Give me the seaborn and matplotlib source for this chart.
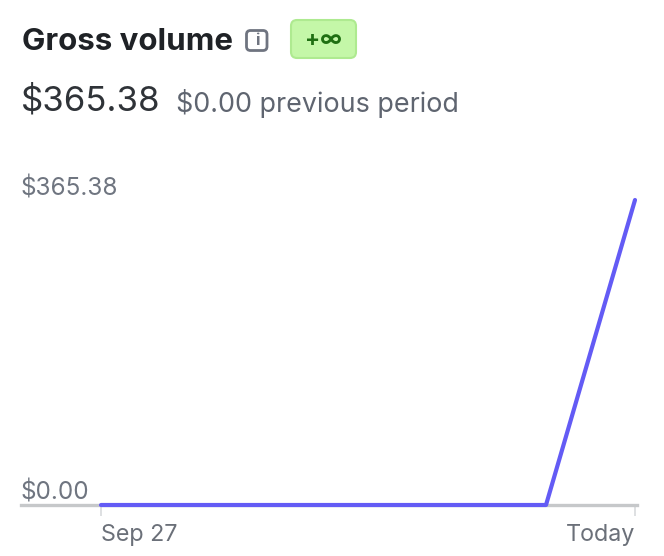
import matplotlib
matplotlib.use('Agg')
import matplotlib.pyplot as plt
import pandas as pd
import seaborn as sns
from matplotlib.patches import FancyBboxPatch

# --- data ---
days = [0, 1, 2, 3, 4, 5, 6]
volume = [0, 0, 0, 0, 0, 0, 365.38]
x_ticks = [0, 6]
x_labels = ['Sep 27', 'Today']
y_ticks = [0, 365.38]
y_labels = ['$0.00', '$365.38']

sns.set_theme(style='white')
plt.rcParams['font.family'] = ['Inter', 'DejaVu Sans']

W, H = 664, 556
fig = plt.figure(figsize=(W / 100, H / 100), dpi=100, facecolor='white')

# header drawn in pixel coords
bg = fig.add_axes([0, 0, 1, 1])
bg.set_xlim(0, W)
bg.set_ylim(H, 0)
bg.axis('off')

bg.text(22, 39, 'Gross volume', fontsize=22.5, fontweight='bold', color='#1f2226', va='center_baseline')
bg.add_patch(FancyBboxPatch((246.5, 30.5), 20.5, 20, boxstyle='round,pad=0,rounding_size=4',
                            fc='white', ec='#6f7480', lw=2))
bg.text(257, 40.5, 'i', fontsize=12, fontweight='bold', color='#6f7480', ha='center', va='center')
bg.add_patch(FancyBboxPatch((291, 20), 65, 38, boxstyle='round,pad=0,rounding_size=6',
                            fc='#c4f7a8', ec='#aeea90', lw=1.5))
bg.text(323.5, 40, '+∞', fontsize=16, fontweight='bold', color='#1f6f12', ha='center', va='center')
bg.text(21, 98, '$365.38', fontsize=25, color='#2f3338', va='center_baseline')
bg.text(176, 100, '$0.00 previous period', fontsize=19.35, color='#5f6570', va='center_baseline')

# chart axes: spans the grey baseline, 21..637 px wide, 200..505 px tall
ax = fig.add_axes([21 / W, 1 - 505 / H, 616 / W, 305 / H], facecolor='none')
df = pd.DataFrame({'day': days, 'volume': volume})
sns.lineplot(data=df, x='day', y='volume', ax=ax, color='#635bf5', linewidth=3,
             zorder=4, clip_on=False, solid_capstyle='round', solid_joinstyle='round')

ax.set_xlim(-80 * 6 / 534, 6 + 2 * 6 / 534)
ax.set_ylim(0, 365.38)
ax.set_xlabel('')
ax.set_ylabel('')
sns.despine(ax=ax, left=True)
ax.spines['bottom'].set_color('#c6c8ca')
ax.spines['bottom'].set_linewidth(2.4)

ax.set_xticks(x_ticks, x_labels)
ax.set_yticks(y_ticks, y_labels)
ax.tick_params(axis='x', length=8, width=1.2, color='#d8dadd', labelsize=16.8, labelcolor='#6b7079', pad=5.5, bottom=True)
ax.tick_params(axis='y', length=0, labelsize=17.5, labelcolor='#6f7580', pad=0.5)
ax.get_xticklabels()[0].set_ha('left')
ax.get_xticklabels()[1].set_ha('right')
for lab in ax.get_yticklabels():
    lab.set_ha('left')
    lab.set_va('bottom')

fig.savefig('out.png', dpi=100)
